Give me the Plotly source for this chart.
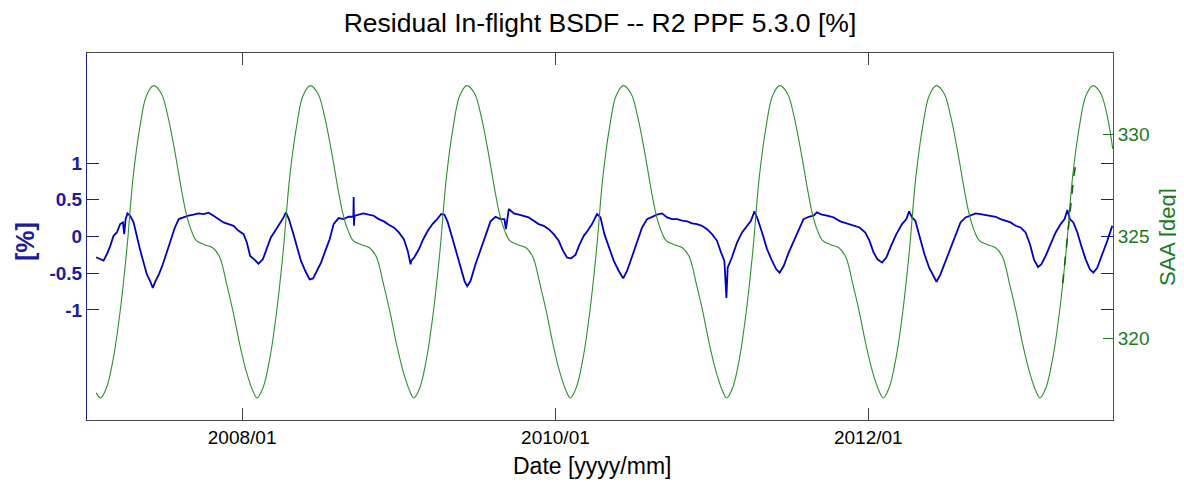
import plotly.graph_objects as go
from datetime import datetime

# ---------------- data (decimal years) ----------------
res_year = [
    2007.067, 2007.093, 2007.114, 2007.135, 2007.157, 2007.178, 2007.199, 2007.220, 2007.238, 2007.246,
    2007.255, 2007.267, 2007.284, 2007.306, 2007.323, 2007.344, 2007.370, 2007.391, 2007.412, 2007.429,
    2007.446, 2007.468, 2007.493, 2007.519, 2007.544, 2007.570, 2007.595, 2007.625, 2007.657, 2007.689,
    2007.721, 2007.753, 2007.785, 2007.817, 2007.849, 2007.881, 2007.913, 2007.945, 2007.977, 2008.009,
    2008.030, 2008.051, 2008.077, 2008.104, 2008.132, 2008.158, 2008.183, 2008.211, 2008.238, 2008.264,
    2008.279, 2008.298, 2008.324, 2008.349, 2008.375, 2008.403, 2008.430, 2008.452, 2008.477, 2008.503,
    2008.530, 2008.558, 2008.583, 2008.615, 2008.647, 2008.679, 2008.709, 2008.711, 2008.713, 2008.716,
    2008.743, 2008.775, 2008.807, 2008.839, 2008.871, 2008.903, 2008.935, 2008.967, 2008.999, 2009.031,
    2009.056, 2009.074, 2009.078, 2009.099, 2009.127, 2009.155, 2009.184, 2009.214, 2009.244, 2009.270,
    2009.291, 2009.312, 2009.340, 2009.367, 2009.393, 2009.419, 2009.436, 2009.457, 2009.489, 2009.521,
    2009.553, 2009.585, 2009.617, 2009.649, 2009.674, 2009.683, 2009.702, 2009.734, 2009.766, 2009.797,
    2009.829, 2009.861, 2009.893, 2009.925, 2009.957, 2009.989, 2010.021, 2010.049, 2010.075, 2010.100,
    2010.128, 2010.155, 2010.181, 2010.206, 2010.234, 2010.266, 2010.288, 2010.313, 2010.341, 2010.373,
    2010.405, 2010.433, 2010.458, 2010.490, 2010.522, 2010.554, 2010.586, 2010.618, 2010.650, 2010.682,
    2010.714, 2010.746, 2010.778, 2010.810, 2010.842, 2010.873, 2010.905, 2010.937, 2010.969, 2011.001,
    2011.033, 2011.059, 2011.080, 2011.093, 2011.101, 2011.129, 2011.161, 2011.193, 2011.225, 2011.250,
    2011.272, 2011.293, 2011.321, 2011.353, 2011.385, 2011.412, 2011.433, 2011.459, 2011.491, 2011.523,
    2011.554, 2011.586, 2011.619, 2011.650, 2011.672, 2011.704, 2011.736, 2011.778, 2011.821, 2011.864,
    2011.906, 2011.944, 2011.981, 2012.008, 2012.034, 2012.059, 2012.088, 2012.115, 2012.145, 2012.179,
    2012.215, 2012.243, 2012.260, 2012.279, 2012.300, 2012.328, 2012.358, 2012.388, 2012.413, 2012.435,
    2012.460, 2012.492, 2012.524, 2012.556, 2012.588, 2012.620, 2012.652, 2012.684, 2012.716, 2012.748,
    2012.780, 2012.812, 2012.843, 2012.875, 2012.907, 2012.939, 2012.971, 2013.003, 2013.031, 2013.056,
    2013.082, 2013.103, 2013.131, 2013.163, 2013.195, 2013.227, 2013.252, 2013.270, 2013.286, 2013.308,
    2013.334, 2013.359, 2013.387, 2013.414, 2013.436, 2013.461, 2013.493, 2013.525, 2013.557,
]
res_pct = [
    -0.283, -0.306, -0.329, -0.242, -0.128, 0.009, 0.055, 0.169, 0.192, 0.032,
    0.237, 0.315, 0.283, 0.192, 0.032, -0.151, -0.356, -0.516, -0.607, -0.699,
    -0.607, -0.516, -0.379, -0.219, -0.059, 0.123, 0.237, 0.260, 0.283, 0.297,
    0.315, 0.306, 0.324, 0.283, 0.237, 0.192, 0.169, 0.146, 0.078, 0.032,
    -0.082, -0.265, -0.311, -0.370, -0.311, -0.151, -0.014, 0.078, 0.169, 0.260,
    0.329, 0.237, 0.055, -0.151, -0.333, -0.470, -0.584, -0.571, -0.470, -0.356,
    -0.196, -0.037, 0.169, 0.251, 0.237, 0.269, 0.270, 0.539, 0.146, 0.280,
    0.297, 0.315, 0.297, 0.283, 0.237, 0.206, 0.160, 0.123, 0.055, -0.037,
    -0.196, -0.379, -0.333, -0.279, -0.174, -0.037, 0.078, 0.169, 0.237, 0.306,
    0.297, 0.192, -0.014, -0.219, -0.425, -0.607, -0.676, -0.607, -0.379, -0.174,
    0.032, 0.206, 0.269, 0.237, 0.237, 0.100, 0.374, 0.315, 0.297, 0.283,
    0.260, 0.215, 0.169, 0.146, 0.100, 0.032, -0.059, -0.196, -0.288, -0.297,
    -0.251, -0.105, 0.009, 0.078, 0.169, 0.306, 0.260, 0.032, -0.151, -0.333,
    -0.470, -0.571, -0.470, -0.265, -0.059, 0.123, 0.237, 0.269, 0.297, 0.315,
    0.260, 0.237, 0.237, 0.215, 0.206, 0.178, 0.169, 0.146, 0.100, 0.032,
    -0.059, -0.219, -0.333, -0.836, -0.425, -0.279, -0.082, 0.055, 0.146, 0.215,
    0.342, 0.237, 0.055, -0.174, -0.333, -0.447, -0.493, -0.402, -0.219, -0.059,
    0.078, 0.237, 0.269, 0.283, 0.329, 0.297, 0.283, 0.260, 0.206, 0.178,
    0.146, 0.123, 0.055, -0.059, -0.219, -0.311, -0.356, -0.288, -0.128, 0.032,
    0.169, 0.237, 0.342, 0.260, 0.215, -0.014, -0.242, -0.425, -0.539, -0.616,
    -0.516, -0.333, -0.151, 0.032, 0.192, 0.260, 0.283, 0.315, 0.306, 0.297,
    0.283, 0.269, 0.237, 0.215, 0.192, 0.146, 0.123, 0.055, -0.105, -0.311,
    -0.416, -0.379, -0.265, -0.105, 0.055, 0.169, 0.237, 0.361, 0.237, 0.192,
    0.055, -0.128, -0.311, -0.447, -0.493, -0.425, -0.251, -0.059, 0.146,
]

saa_year = [
    2007.067, 2007.095, 2007.133, 2007.177, 2007.218, 2007.262, 2007.303, 2007.347, 2007.388, 2007.434,
    2007.484, 2007.525, 2007.569, 2007.612, 2007.643, 2007.675, 2007.708, 2007.760, 2007.812, 2007.856,
    2007.900, 2007.941, 2007.985,
    2008.026, 2008.070, 2008.095, 2008.133, 2008.177, 2008.218, 2008.262, 2008.303, 2008.347, 2008.388,
    2008.434, 2008.484, 2008.525, 2008.569, 2008.612, 2008.643, 2008.675, 2008.708, 2008.760, 2008.812,
    2008.856, 2008.900, 2008.941, 2008.985,
    2009.026, 2009.070, 2009.095, 2009.133, 2009.177, 2009.218, 2009.262, 2009.303, 2009.347, 2009.388,
    2009.434, 2009.484, 2009.525, 2009.569, 2009.612, 2009.643, 2009.675, 2009.708, 2009.760, 2009.812,
    2009.856, 2009.900, 2009.941, 2009.985,
    2010.026, 2010.070, 2010.095, 2010.133, 2010.177, 2010.218, 2010.262, 2010.303, 2010.347, 2010.388,
    2010.434, 2010.484, 2010.525, 2010.569, 2010.612, 2010.643, 2010.675, 2010.708, 2010.760, 2010.812,
    2010.856, 2010.900, 2010.941, 2010.985,
    2011.026, 2011.070, 2011.095, 2011.133, 2011.177, 2011.218, 2011.262, 2011.303, 2011.347, 2011.388,
    2011.434, 2011.484, 2011.525, 2011.569, 2011.612, 2011.643, 2011.675, 2011.708, 2011.760, 2011.812,
    2011.856, 2011.900, 2011.941, 2011.985,
    2012.026, 2012.070, 2012.095, 2012.133, 2012.177, 2012.218, 2012.262, 2012.303, 2012.347, 2012.388,
    2012.434, 2012.484, 2012.525, 2012.569, 2012.612, 2012.643, 2012.675, 2012.708, 2012.760, 2012.812,
    2012.856, 2012.900, 2012.941, 2012.985,
    2013.026, 2013.070, 2013.095, 2013.133, 2013.177, 2013.218, 2013.262, 2013.303, 2013.347, 2013.388,
    2013.434, 2013.484, 2013.525, 2013.560,
]
saa_deg = [
    317.33, 317.08, 317.58, 319.05, 321.2, 324.3, 327.9, 330.4, 331.9, 332.4,
    332.0, 330.9, 329.2, 327.3, 326.1, 325.3, 324.8, 324.6, 324.45, 324.0,
    322.7, 321.35, 319.7,
    318.4, 317.4, 317.08, 317.58, 319.05, 321.2, 324.3, 327.9, 330.4, 331.9,
    332.4, 332.0, 330.9, 329.2, 327.3, 326.1, 325.3, 324.8, 324.6, 324.45,
    324.0, 322.7, 321.35, 319.7,
    318.4, 317.4, 317.08, 317.58, 319.05, 321.2, 324.3, 327.9, 330.4, 331.9,
    332.4, 332.0, 330.9, 329.2, 327.3, 326.1, 325.3, 324.8, 324.6, 324.45,
    324.0, 322.7, 321.35, 319.7,
    318.4, 317.4, 317.08, 317.58, 319.05, 321.2, 324.3, 327.9, 330.4, 331.9,
    332.4, 332.0, 330.9, 329.2, 327.3, 326.1, 325.3, 324.8, 324.6, 324.45,
    324.0, 322.7, 321.35, 319.7,
    318.4, 317.4, 317.08, 317.58, 319.05, 321.2, 324.3, 327.9, 330.4, 331.9,
    332.4, 332.0, 330.9, 329.2, 327.3, 326.1, 325.3, 324.8, 324.6, 324.45,
    324.0, 322.7, 321.35, 319.7,
    318.4, 317.4, 317.08, 317.58, 319.05, 321.2, 324.3, 327.9, 330.4, 331.9,
    332.4, 332.0, 330.9, 329.2, 327.3, 326.1, 325.3, 324.8, 324.6, 324.45,
    324.0, 322.7, 321.35, 319.7,
    318.4, 317.4, 317.08, 317.58, 319.05, 321.2, 324.3, 327.9, 330.4, 331.9,
    332.4, 332.0, 330.9, 329.3,
]

saa_recent_year = [2013.240, 2013.262, 2013.285, 2013.310, 2013.328]
saa_recent_deg = [322.7, 324.3, 326.3, 327.9, 328.8]

x_tick_dates = ["2008-01-01", "2010-01-01", "2012-01-01"]
x_tick_text = ["2008/01", "2010/01", "2012/01"]
y_tick_vals = [-1, -0.5, 0, 0.5, 1]
y_tick_text = ["-1", "-0.5", "0", "0.5", "1"]
y2_tick_vals = [320, 325, 330]


def to_date(y):
    yr = int(y)
    a = datetime(yr, 1, 1)
    b = datetime(yr + 1, 1, 1)
    return a + (b - a) * (y - yr)


BLUE_LINE = "#0000c0"
BLUE_AX = "#1c1c96"
GREEN_LINE = "#2f8f2f"
GREEN_AX = "#1a7a1a"
FONT = "Liberation Sans, Arial, sans-serif"

fig = go.Figure()
fig.add_trace(go.Scatter(
    x=[to_date(v) for v in res_year], y=res_pct, mode="lines",
    line=dict(color=BLUE_LINE, width=1.8), yaxis="y", showlegend=False))
# empty trace that only carries the mirrored blue ticks on the right side
fig.add_trace(go.Scatter(x=[], y=[], mode="lines", yaxis="y3", showlegend=False,
                         hoverinfo="skip"))
fig.add_trace(go.Scatter(
    x=[to_date(v) for v in saa_year], y=saa_deg, mode="lines",
    line=dict(color=GREEN_LINE, width=1.1, shape="spline", smoothing=1.0),
    yaxis="y2", showlegend=False))
fig.add_trace(go.Scatter(
    x=[to_date(v) for v in saa_recent_year], y=saa_recent_deg, mode="lines",
    line=dict(color="#0b6a0b", width=1.6, dash="dash"), yaxis="y2", showlegend=False))

fig.update_layout(
    width=1184, height=482,
    paper_bgcolor="white", plot_bgcolor="white",
    margin=dict(l=79, r=79, t=45, b=70),
    title=dict(text="Residual In-flight BSDF -- R2 PPF 5.3.0 [%]",
               x=0.5, xref="paper", xanchor="center",
               y=0.969, yref="container", yanchor="middle",
               font=dict(family=FONT, size=26.5, color="black")),
    xaxis=dict(
        type="date", range=[datetime(2007, 1, 4), datetime(2013, 7, 25)],
        tickvals=x_tick_dates, ticktext=x_tick_text,
        ticks="inside", ticklen=12, tickcolor="#444", tickwidth=1,
        showline=True, linecolor="#444", linewidth=1, mirror="ticks",
        showgrid=False, zeroline=False, automargin=False,
        tickfont=dict(family=FONT, size=19, color="black"),
    ),
    yaxis=dict(
        range=[-2.5, 2.5], tickvals=y_tick_vals, ticktext=y_tick_text,
        ticks="inside", ticklen=12, tickcolor=BLUE_AX, tickwidth=1,
        showline=True, linecolor=BLUE_AX, linewidth=1, mirror=False,
        showgrid=False, zeroline=False, automargin=False,
        tickfont=dict(family=FONT, size=19, color=BLUE_AX, weight="bold"),
    ),
    yaxis3=dict(
        range=[-2.5, 2.5], tickvals=y_tick_vals,
        overlaying="y", side="right", showticklabels=False,
        ticks="inside", ticklen=12, tickcolor=BLUE_AX, tickwidth=1,
        showline=False, showgrid=False, zeroline=False, automargin=False,
    ),
    yaxis2=dict(
        range=[316, 334], tickvals=y2_tick_vals,
        overlaying="y", side="right",
        ticks="inside", ticklen=10, tickcolor=GREEN_AX, tickwidth=1,
        showline=True, linecolor=GREEN_AX, linewidth=1,
        showgrid=False, zeroline=False, automargin=False,
        tickfont=dict(family=FONT, size=19, color=GREEN_AX),
    ),
    annotations=[
        dict(text="Date [yyyy/mm]", xref="paper", yref="paper", x=0.492, y=-0.125,
             xanchor="center", yanchor="middle", showarrow=False,
             font=dict(family=FONT, size=23, color="black")),
        dict(text="[%]", xref="paper", yref="paper", x=-0.0604, y=0.485,
             xanchor="center", yanchor="middle", showarrow=False, textangle=-90,
             font=dict(family=FONT, size=25, color=BLUE_AX, weight="bold")),
        dict(text="SAA [deg]", xref="paper", yref="paper", x=1.0526, y=0.4986,
             xanchor="center", yanchor="middle", showarrow=False, textangle=-90,
             font=dict(family=FONT, size=22, color=GREEN_AX)),
    ],
)

fig.write_html("out.html")
